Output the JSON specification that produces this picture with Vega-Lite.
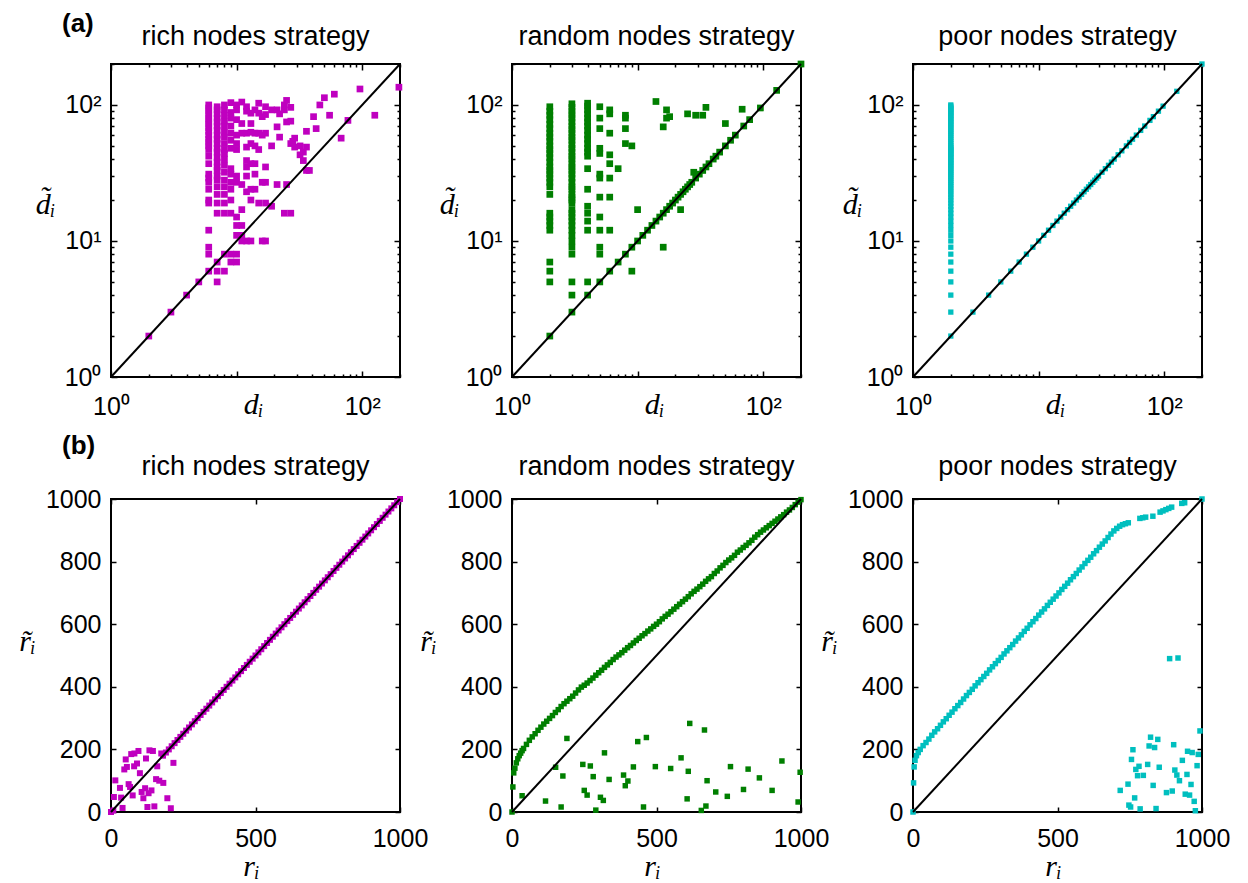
{
"$schema": "https://vega.github.io/schema/vega-lite/v6.json",
"background": "white",
"padding": {"left": 17, "top": 11, "right": 5, "bottom": 5},
"config": {
 "view": {"stroke": "black", "strokeWidth": 2},
 "font": "Liberation Sans",
 "axis": {"domain": false, "grid": false, "tickColor": "black", "tickWidth": 1.5, "labelFont": "Liberation Sans", "labelFontSize": 25, "labelColor": "black", "labelFlush": false, "labelOverlap": false, "titleFont": "Liberation Serif", "titleFontStyle": "italic", "titleFontWeight": "normal", "titleFontSize": 30, "titleColor": "black"},
 "title": {"font": "Liberation Sans", "fontSize": 27, "fontWeight": "normal", "color": "black", "anchor": "middle", "baseline": "alphabetic", "offset": 1}
},
"datasets": {
 "diag_top": [{"d": 1, "dt": 1}, {"d": 200, "dt": 200}],
 "diag_bot": [{"r": 0, "rt": 0}, {"r": 1000, "rt": 1000}],
 "a_rich": [
  {"d":2,"dt":2},{"d":3,"dt":3},{"d":4,"dt":4},{"d":5,"dt":5},
  {"d":6,"dt":6},{"d":6,"dt":8},{"d":6,"dt":9},{"d":6,"dt":12},{"d":6,"dt":19},{"d":6,"dt":20},{"d":6,"dt":24},{"d":6,"dt":27},{"d":6,"dt":29},{"d":6,"dt":31},{"d":6,"dt":37},{"d":6,"dt":42},{"d":6,"dt":47},{"d":6,"dt":50},{"d":6,"dt":53},{"d":6,"dt":56},{"d":6,"dt":60},{"d":6,"dt":64},{"d":6,"dt":68},{"d":6,"dt":72},{"d":6,"dt":76},{"d":6,"dt":80},{"d":6,"dt":85},{"d":6,"dt":90},{"d":6,"dt":95},{"d":6,"dt":100},
  {"d":7,"dt":5},{"d":7,"dt":6},{"d":7,"dt":7},{"d":7,"dt":16},{"d":7,"dt":19},{"d":7,"dt":22},{"d":7,"dt":25},{"d":7,"dt":28},{"d":7,"dt":30},{"d":7,"dt":33},{"d":7,"dt":35},{"d":7,"dt":38},{"d":7,"dt":41},{"d":7,"dt":45},{"d":7,"dt":48},{"d":7,"dt":52},{"d":7,"dt":56},{"d":7,"dt":60},{"d":7,"dt":65},{"d":7,"dt":70},{"d":7,"dt":75},{"d":7,"dt":80},{"d":7,"dt":86},{"d":7,"dt":92},{"d":7,"dt":97},
  {"d":8,"dt":6},{"d":8,"dt":8},{"d":8,"dt":16},{"d":8,"dt":19},{"d":8,"dt":22},{"d":8,"dt":25},{"d":8,"dt":28},{"d":8,"dt":32},{"d":8,"dt":36},{"d":8,"dt":40},{"d":8,"dt":44},{"d":8,"dt":47},{"d":8,"dt":52},{"d":8,"dt":58},{"d":8,"dt":63},{"d":8,"dt":70},{"d":8,"dt":76},{"d":8,"dt":84},{"d":8,"dt":92},{"d":8,"dt":100},
  {"d":9,"dt":7},{"d":9,"dt":8},{"d":9,"dt":16},{"d":9,"dt":20},{"d":9,"dt":24},{"d":9,"dt":27},{"d":9,"dt":31},{"d":9,"dt":34},{"d":9,"dt":48},{"d":9,"dt":55},{"d":9,"dt":62},{"d":9,"dt":70},{"d":9,"dt":80},{"d":9,"dt":88},{"d":9,"dt":104},
  {"d":10,"dt":7},{"d":10,"dt":8},{"d":10,"dt":11},{"d":10,"dt":13},{"d":10,"dt":15},{"d":10,"dt":27},{"d":10,"dt":30},{"d":10,"dt":47},{"d":10,"dt":52},{"d":10,"dt":60},{"d":10,"dt":78},{"d":10,"dt":92},{"d":10,"dt":100},
  {"d":11,"dt":10},{"d":11,"dt":11},{"d":11,"dt":13},{"d":11,"dt":17},{"d":11,"dt":26},{"d":11,"dt":62},{"d":11,"dt":73},{"d":11,"dt":105},
  {"d":12,"dt":10},{"d":12,"dt":23},{"d":12,"dt":30},{"d":12,"dt":35},{"d":12,"dt":39},{"d":12,"dt":49},{"d":12,"dt":62},{"d":12,"dt":90},{"d":12,"dt":97},
  {"d":13,"dt":10},{"d":13,"dt":20},{"d":13,"dt":24},{"d":13,"dt":37},{"d":13,"dt":52},{"d":13,"dt":63},{"d":13,"dt":73},{"d":13,"dt":87},
  {"d":14,"dt":24},{"d":14,"dt":31},{"d":14,"dt":37},{"d":14,"dt":50},{"d":14,"dt":62},{"d":14,"dt":92},
  {"d":15,"dt":19},{"d":15,"dt":47},{"d":15,"dt":62},{"d":15,"dt":87},{"d":15,"dt":103},
  {"d":16,"dt":10},{"d":16,"dt":27},{"d":16,"dt":60},{"d":16,"dt":82},
  {"d":17,"dt":10},{"d":17,"dt":19},{"d":17,"dt":27},{"d":17,"dt":35},{"d":17,"dt":62},{"d":17,"dt":85},{"d":17,"dt":97},
  {"d":19,"dt":18},{"d":19,"dt":50},{"d":19,"dt":92},
  {"d":21,"dt":26},{"d":21,"dt":69},{"d":21,"dt":92},
  {"d":22,"dt":58},{"d":22,"dt":86},
  {"d":24,"dt":16},{"d":24,"dt":92},{"d":24,"dt":100},
  {"d":25,"dt":26},{"d":25,"dt":75},{"d":25,"dt":108},
  {"d":27,"dt":16},{"d":27,"dt":52},{"d":27,"dt":76},{"d":27,"dt":96},
  {"d":28,"dt":54},{"d":29,"dt":49},{"d":29,"dt":57},
  {"d":32,"dt":43},{"d":32,"dt":50},{"d":34,"dt":39},{"d":34,"dt":45},
  {"d":36,"dt":33},{"d":36,"dt":49},{"d":36,"dt":64},{"d":38,"dt":33},
  {"d":41,"dt":82},{"d":43,"dt":67},{"d":46,"dt":100},{"d":50,"dt":113},{"d":55,"dt":84},{"d":60,"dt":120},{"d":68,"dt":57},{"d":77,"dt":77},{"d":96,"dt":131},{"d":126,"dt":84},{"d":196,"dt":135}
 ],
 "a_random": [
  {"d":2,"dt":2},{"d":2,"dt":5},{"d":2,"dt":6},{"d":2,"dt":7},{"d":2,"dt":12},{"d":2,"dt":13},{"d":2,"dt":14},{"d":2,"dt":15},{"d":2,"dt":16},{"d":2,"dt":22},{"d":2,"dt":25},{"d":2,"dt":27},{"d":2,"dt":29},{"d":2,"dt":31},{"d":2,"dt":33},{"d":2,"dt":35},{"d":2,"dt":38},{"d":2,"dt":41},{"d":2,"dt":44},{"d":2,"dt":47},{"d":2,"dt":50},{"d":2,"dt":54},{"d":2,"dt":58},{"d":2,"dt":62},{"d":2,"dt":67},{"d":2,"dt":72},{"d":2,"dt":78},{"d":2,"dt":84},{"d":2,"dt":90},{"d":2,"dt":97},
  {"d":3,"dt":3},{"d":3,"dt":4},{"d":3,"dt":5},{"d":3,"dt":8},{"d":3,"dt":9},{"d":3,"dt":10},{"d":3,"dt":11},{"d":3,"dt":12},{"d":3,"dt":13},{"d":3,"dt":14},{"d":3,"dt":15},{"d":3,"dt":16},{"d":3,"dt":17},{"d":3,"dt":19},{"d":3,"dt":20},{"d":3,"dt":21},{"d":3,"dt":22},{"d":3,"dt":24},{"d":3,"dt":25},{"d":3,"dt":27},{"d":3,"dt":29},{"d":3,"dt":31},{"d":3,"dt":33},{"d":3,"dt":35},{"d":3,"dt":37},{"d":3,"dt":40},{"d":3,"dt":42},{"d":3,"dt":45},{"d":3,"dt":48},{"d":3,"dt":51},{"d":3,"dt":55},{"d":3,"dt":58},{"d":3,"dt":62},{"d":3,"dt":66},{"d":3,"dt":70},{"d":3,"dt":75},{"d":3,"dt":80},{"d":3,"dt":85},{"d":3,"dt":90},{"d":3,"dt":96},{"d":3,"dt":102},
  {"d":4,"dt":4},{"d":4,"dt":5},{"d":4,"dt":12},{"d":4,"dt":14},{"d":4,"dt":16},{"d":4,"dt":18},{"d":4,"dt":24},{"d":4,"dt":34},{"d":4,"dt":42},{"d":4,"dt":45},{"d":4,"dt":48},{"d":4,"dt":52},{"d":4,"dt":56},{"d":4,"dt":60},{"d":4,"dt":65},{"d":4,"dt":70},{"d":4,"dt":75},{"d":4,"dt":80},{"d":4,"dt":86},{"d":4,"dt":92},{"d":4,"dt":98},{"d":4,"dt":103},
  {"d":5,"dt":5},{"d":5,"dt":8},{"d":5,"dt":9},{"d":5,"dt":12},{"d":5,"dt":15},{"d":5,"dt":21},{"d":5,"dt":29},{"d":5,"dt":31},{"d":5,"dt":44},{"d":5,"dt":48},{"d":5,"dt":67},{"d":5,"dt":80},{"d":5,"dt":97},
  {"d":6,"dt":6},{"d":6,"dt":12},{"d":6,"dt":21},{"d":6,"dt":29},{"d":6,"dt":37},{"d":6,"dt":43},{"d":6,"dt":62},{"d":6,"dt":86},{"d":6,"dt":92},
  {"d":7,"dt":7},{"d":7,"dt":34},{"d":8,"dt":8},{"d":8,"dt":52},{"d":8,"dt":67},{"d":8,"dt":80},{"d":8,"dt":84},{"d":9,"dt":6},{"d":9,"dt":9},{"d":9,"dt":50},{"d":10,"dt":10},{"d":10,"dt":17},
  {"d":11,"dt":11},{"d":12,"dt":12},{"d":13,"dt":13},{"d":14,"dt":14},{"d":15,"dt":15},{"d":16,"dt":16},{"d":17,"dt":17},{"d":18,"dt":18},{"d":19,"dt":19},{"d":20,"dt":20},{"d":21,"dt":21},{"d":22,"dt":22},{"d":23,"dt":23},{"d":24,"dt":24},{"d":25,"dt":25},{"d":26,"dt":26},{"d":27,"dt":27},{"d":29,"dt":29},{"d":31,"dt":31},{"d":33,"dt":33},{"d":35,"dt":35},{"d":37,"dt":37},{"d":40,"dt":40},{"d":42,"dt":42},{"d":45,"dt":45},{"d":50,"dt":50},{"d":55,"dt":55},{"d":60,"dt":60},{"d":70,"dt":70},{"d":78,"dt":78},{"d":95,"dt":95},{"d":128,"dt":128},{"d":200,"dt":200},
  {"d":14,"dt":106},{"d":16,"dt":69},{"d":16,"dt":9},{"d":17,"dt":92},{"d":17,"dt":80},{"d":18,"dt":82},{"d":22,"dt":17},{"d":25,"dt":86},{"d":28,"dt":32},{"d":29,"dt":84},{"d":33,"dt":84},{"d":35,"dt":96},{"d":50,"dt":73},{"d":68,"dt":93}
 ],
 "a_poor": [
  {"d":2,"dt":2},{"d":2,"dt":3},{"d":2,"dt":4},{"d":2,"dt":5},{"d":2,"dt":6},{"d":2,"dt":7},{"d":2,"dt":8},{"d":2,"dt":9},{"d":2,"dt":10},{"d":2,"dt":11},{"d":2,"dt":12},{"d":2,"dt":13},{"d":2,"dt":14},{"d":2,"dt":15},{"d":2,"dt":16},{"d":2,"dt":17},{"d":2,"dt":18},{"d":2,"dt":19},{"d":2,"dt":20},{"d":2,"dt":21},{"d":2,"dt":22},{"d":2,"dt":23},{"d":2,"dt":24},{"d":2,"dt":25},{"d":2,"dt":26},{"d":2,"dt":27},{"d":2,"dt":28},{"d":2,"dt":29},{"d":2,"dt":30},{"d":2,"dt":31},{"d":2,"dt":32},{"d":2,"dt":33},{"d":2,"dt":34},{"d":2,"dt":35},{"d":2,"dt":36},{"d":2,"dt":37},{"d":2,"dt":38},{"d":2,"dt":39},{"d":2,"dt":40},{"d":2,"dt":41},{"d":2,"dt":42},{"d":2,"dt":43},{"d":2,"dt":44},{"d":2,"dt":45},{"d":2,"dt":46},{"d":2,"dt":47},{"d":2,"dt":48},{"d":2,"dt":49},{"d":2,"dt":50},{"d":2,"dt":52},{"d":2,"dt":54},{"d":2,"dt":56},{"d":2,"dt":58},{"d":2,"dt":60},{"d":2,"dt":62},{"d":2,"dt":64},{"d":2,"dt":66},{"d":2,"dt":68},{"d":2,"dt":70},{"d":2,"dt":72},{"d":2,"dt":74},{"d":2,"dt":76},{"d":2,"dt":78},{"d":2,"dt":80},{"d":2,"dt":82},{"d":2,"dt":84},{"d":2,"dt":86},{"d":2,"dt":88},{"d":2,"dt":90},{"d":2,"dt":92},{"d":2,"dt":94},{"d":2,"dt":96},{"d":2,"dt":98},{"d":2,"dt":100},
  {"d":3,"dt":3},{"d":4,"dt":4},{"d":5,"dt":5},{"d":6,"dt":6},{"d":7,"dt":7},{"d":8,"dt":8},{"d":9,"dt":9},{"d":10,"dt":10},{"d":11,"dt":11},{"d":12,"dt":12},{"d":13,"dt":13},{"d":14,"dt":14},{"d":15,"dt":15},{"d":16,"dt":16},{"d":17,"dt":17},{"d":18,"dt":18},{"d":19,"dt":19},{"d":20,"dt":20},{"d":21,"dt":21},{"d":22,"dt":22},{"d":23,"dt":23},{"d":24,"dt":24},{"d":25,"dt":25},{"d":26,"dt":26},{"d":27,"dt":27},{"d":28,"dt":28},{"d":29,"dt":29},{"d":30,"dt":30},{"d":32,"dt":32},{"d":34,"dt":34},{"d":36,"dt":36},{"d":38,"dt":38},{"d":40,"dt":40},{"d":43,"dt":43},{"d":46,"dt":46},{"d":50,"dt":50},{"d":53,"dt":53},{"d":56,"dt":56},{"d":60,"dt":60},{"d":65,"dt":65},{"d":70,"dt":70},{"d":77,"dt":77},{"d":82,"dt":82},{"d":90,"dt":90},{"d":98,"dt":98},{"d":126,"dt":126},{"d":200,"dt":200}
 ],
 "b_rich": [
  {"r":0,"rt":0},{"r":8,"rt":5},{"r":15,"rt":101},{"r":10,"rt":48},{"r":31,"rt":77},{"r":35,"rt":46},{"r":40,"rt":13},{"r":46,"rt":136},{"r":51,"rt":168},{"r":55,"rt":144},{"r":70,"rt":185},{"r":81,"rt":187},{"r":95,"rt":195},{"r":90,"rt":155},{"r":80,"rt":146},{"r":100,"rt":124},{"r":61,"rt":89},{"r":66,"rt":80},{"r":75,"rt":53},{"r":106,"rt":64},{"r":112,"rt":44},{"r":118,"rt":76},{"r":130,"rt":60},{"r":140,"rt":69},{"r":121,"rt":171},{"r":133,"rt":197},{"r":145,"rt":195},{"r":160,"rt":146},{"r":156,"rt":105},{"r":167,"rt":100},{"r":181,"rt":93},{"r":195,"rt":44},{"r":207,"rt":12},{"r":126,"rt":16},{"r":150,"rt":18},{"r":216,"rt":157},{"r":174,"rt":187},
  {"r":180,"rt":180},{"r":190,"rt":190},{"r":200,"rt":200},{"r":210,"rt":210},{"r":220,"rt":220},{"r":230,"rt":230},{"r":240,"rt":240},{"r":250,"rt":250},{"r":260,"rt":260},{"r":270,"rt":270},{"r":280,"rt":280},{"r":290,"rt":290},{"r":300,"rt":300},{"r":310,"rt":310},{"r":320,"rt":320},{"r":330,"rt":330},{"r":340,"rt":340},{"r":350,"rt":350},{"r":360,"rt":360},{"r":370,"rt":370},{"r":380,"rt":380},{"r":390,"rt":390},{"r":400,"rt":400},{"r":410,"rt":410},{"r":420,"rt":420},{"r":430,"rt":430},{"r":440,"rt":440},{"r":450,"rt":450},{"r":460,"rt":460},{"r":470,"rt":470},{"r":480,"rt":480},{"r":490,"rt":490},{"r":500,"rt":500},{"r":510,"rt":510},{"r":520,"rt":520},{"r":530,"rt":530},{"r":540,"rt":540},{"r":550,"rt":550},{"r":560,"rt":560},{"r":570,"rt":570},{"r":580,"rt":580},{"r":590,"rt":590},{"r":600,"rt":600},{"r":610,"rt":610},{"r":620,"rt":620},{"r":630,"rt":630},{"r":640,"rt":640},{"r":650,"rt":650},{"r":660,"rt":660},{"r":670,"rt":670},{"r":680,"rt":680},{"r":690,"rt":690},{"r":700,"rt":700},{"r":710,"rt":710},{"r":720,"rt":720},{"r":730,"rt":730},{"r":740,"rt":740},{"r":750,"rt":750},{"r":760,"rt":760},{"r":770,"rt":770},{"r":780,"rt":780},{"r":790,"rt":790},{"r":800,"rt":800},{"r":810,"rt":810},{"r":820,"rt":820},{"r":830,"rt":830},{"r":840,"rt":840},{"r":850,"rt":850},{"r":860,"rt":860},{"r":870,"rt":870},{"r":880,"rt":880},{"r":890,"rt":890},{"r":900,"rt":900},{"r":910,"rt":910},{"r":920,"rt":920},{"r":930,"rt":930},{"r":940,"rt":940},{"r":950,"rt":950},{"r":960,"rt":960},{"r":970,"rt":970},{"r":980,"rt":980},{"r":990,"rt":990},{"r":1000,"rt":1000}
 ],
 "b_random": [
  {"r":35,"rt":52},{"r":116,"rt":35},{"r":170,"rt":16},{"r":151,"rt":143},{"r":176,"rt":115},{"r":190,"rt":235},{"r":245,"rt":152},{"r":271,"rt":147},{"r":281,"rt":113},{"r":250,"rt":69},{"r":260,"rt":54},{"r":290,"rt":6},{"r":306,"rt":47},{"r":316,"rt":37},{"r":320,"rt":189},{"r":336,"rt":104},{"r":386,"rt":118},{"r":401,"rt":99},{"r":392,"rt":84},{"r":420,"rt":144},{"r":435,"rt":225},{"r":465,"rt":238},{"r":455,"rt":16},{"r":496,"rt":145},{"r":549,"rt":139},{"r":585,"rt":173},{"r":615,"rt":283},{"r":610,"rt":130},{"r":606,"rt":42},{"r":666,"rt":262},{"r":675,"rt":100},{"r":655,"rt":5},{"r":671,"rt":19},{"r":705,"rt":64},{"r":745,"rt":50},{"r":756,"rt":145},{"r":801,"rt":72},{"r":817,"rt":137},{"r":856,"rt":109},{"r":900,"rt":69},{"r":934,"rt":163},{"r":997,"rt":127},{"r":990,"rt":32},
  {"r":0,"rt":0},{"r":3,"rt":80},{"r":6,"rt":125},{"r":10,"rt":140},{"r":15,"rt":157},{"r":20,"rt":170},{"r":25,"rt":180},{"r":30,"rt":188},{"r":35,"rt":196},{"r":40,"rt":203},{"r":50,"rt":216},{"r":60,"rt":229},{"r":70,"rt":240},{"r":80,"rt":250},{"r":90,"rt":261},{"r":100,"rt":271},{"r":110,"rt":281},{"r":120,"rt":290},{"r":130,"rt":299},{"r":140,"rt":308},{"r":150,"rt":318},{"r":160,"rt":327},{"r":170,"rt":337},{"r":180,"rt":346},{"r":190,"rt":354},{"r":200,"rt":362},{"r":210,"rt":370},{"r":220,"rt":380},{"r":230,"rt":390},{"r":240,"rt":399},{"r":250,"rt":405},{"r":260,"rt":412},{"r":270,"rt":420},{"r":280,"rt":428},{"r":290,"rt":437},{"r":300,"rt":445},{"r":310,"rt":453},{"r":320,"rt":462},{"r":330,"rt":470},{"r":340,"rt":478},{"r":350,"rt":487},{"r":360,"rt":495},{"r":370,"rt":502},{"r":380,"rt":509},{"r":390,"rt":517},{"r":400,"rt":525},{"r":410,"rt":532},{"r":420,"rt":540},{"r":430,"rt":548},{"r":440,"rt":555},{"r":450,"rt":563},{"r":460,"rt":570},{"r":470,"rt":578},{"r":480,"rt":585},{"r":490,"rt":593},{"r":500,"rt":600},{"r":510,"rt":608},{"r":520,"rt":617},{"r":530,"rt":625},{"r":540,"rt":632},{"r":550,"rt":640},{"r":560,"rt":648},{"r":570,"rt":656},{"r":580,"rt":664},{"r":590,"rt":672},{"r":600,"rt":680},{"r":610,"rt":688},{"r":620,"rt":697},{"r":630,"rt":705},{"r":640,"rt":712},{"r":650,"rt":720},{"r":660,"rt":728},{"r":670,"rt":737},{"r":680,"rt":745},{"r":690,"rt":752},{"r":700,"rt":762},{"r":710,"rt":770},{"r":720,"rt":780},{"r":730,"rt":788},{"r":740,"rt":797},{"r":750,"rt":805},{"r":760,"rt":812},{"r":770,"rt":820},{"r":780,"rt":830},{"r":790,"rt":837},{"r":800,"rt":845},{"r":810,"rt":852},{"r":820,"rt":860},{"r":830,"rt":868},{"r":840,"rt":878},{"r":850,"rt":886},{"r":860,"rt":894},{"r":870,"rt":901},{"r":880,"rt":908},{"r":890,"rt":915},{"r":900,"rt":922},{"r":910,"rt":929},{"r":920,"rt":936},{"r":930,"rt":943},{"r":940,"rt":950},{"r":950,"rt":958},{"r":960,"rt":965},{"r":970,"rt":973},{"r":980,"rt":982},{"r":990,"rt":990},{"r":1000,"rt":998}
 ],
 "b_poor": [
  {"r":888,"rt":490},{"r":917,"rt":492},{"r":993,"rt":259},{"r":822,"rt":239},{"r":847,"rt":232},{"r":817,"rt":211},{"r":836,"rt":206},{"r":902,"rt":215},{"r":761,"rt":199},{"r":756,"rt":168},{"r":950,"rt":194},{"r":966,"rt":190},{"r":987,"rt":184},{"r":932,"rt":165},{"r":782,"rt":146},{"r":771,"rt":136},{"r":812,"rt":152},{"r":852,"rt":143},{"r":983,"rt":148},{"r":906,"rt":134},{"r":913,"rt":118},{"r":777,"rt":116},{"r":797,"rt":117},{"r":948,"rt":120},{"r":922,"rt":100},{"r":744,"rt":89},{"r":831,"rt":85},{"r":717,"rt":69},{"r":962,"rt":88},{"r":897,"rt":67},{"r":877,"rt":62},{"r":942,"rt":57},{"r":957,"rt":54},{"r":767,"rt":45},{"r":973,"rt":34},{"r":747,"rt":22},{"r":753,"rt":16},{"r":786,"rt":10},{"r":841,"rt":11},{"r":977,"rt":4},
  {"r":0,"rt":0},{"r":2,"rt":93},{"r":4,"rt":144},{"r":7,"rt":165},{"r":12,"rt":180},{"r":18,"rt":190},{"r":25,"rt":200},{"r":35,"rt":212},{"r":45,"rt":222},{"r":55,"rt":233},{"r":65,"rt":245},{"r":75,"rt":256},{"r":85,"rt":266},{"r":95,"rt":277},{"r":105,"rt":288},{"r":115,"rt":298},{"r":125,"rt":309},{"r":135,"rt":319},{"r":145,"rt":330},{"r":155,"rt":340},{"r":165,"rt":350},{"r":175,"rt":361},{"r":185,"rt":372},{"r":195,"rt":382},{"r":205,"rt":392},{"r":215,"rt":403},{"r":225,"rt":413},{"r":235,"rt":423},{"r":245,"rt":433},{"r":255,"rt":443},{"r":265,"rt":454},{"r":275,"rt":464},{"r":285,"rt":474},{"r":295,"rt":484},{"r":305,"rt":494},{"r":315,"rt":505},{"r":325,"rt":515},{"r":335,"rt":525},{"r":345,"rt":535},{"r":355,"rt":546},{"r":365,"rt":556},{"r":375,"rt":566},{"r":385,"rt":577},{"r":395,"rt":587},{"r":405,"rt":598},{"r":415,"rt":608},{"r":425,"rt":618},{"r":435,"rt":629},{"r":445,"rt":639},{"r":455,"rt":649},{"r":465,"rt":660},{"r":475,"rt":670},{"r":485,"rt":680},{"r":495,"rt":690},{"r":505,"rt":700},{"r":515,"rt":711},{"r":525,"rt":721},{"r":535,"rt":731},{"r":545,"rt":742},{"r":555,"rt":752},{"r":565,"rt":762},{"r":575,"rt":773},{"r":585,"rt":783},{"r":595,"rt":794},{"r":605,"rt":804},{"r":615,"rt":814},{"r":625,"rt":825},{"r":635,"rt":835},{"r":645,"rt":846},{"r":655,"rt":856},{"r":665,"rt":866},{"r":675,"rt":877},{"r":685,"rt":888},{"r":695,"rt":898},{"r":705,"rt":906},{"r":715,"rt":913},{"r":725,"rt":918},{"r":735,"rt":921},{"r":745,"rt":924},{"r":785,"rt":938},{"r":795,"rt":940},{"r":805,"rt":942},{"r":830,"rt":945},{"r":855,"rt":958},{"r":865,"rt":962},{"r":875,"rt":966},{"r":885,"rt":970},{"r":895,"rt":974},{"r":930,"rt":986},{"r":940,"rt":988},{"r":1000,"rt":1000}
 ]
},
"spacing": 435,
"bounds": "flush",
"vconcat": [
 {
  "title": {"text": "(a)", "anchor": "start", "frame": "group", "fontWeight": "bold", "fontSize": 26, "dx": -49, "dy": 15, "offset": 0},
  "spacing": 112,
  "bounds": "flush",
  "hconcat": [
   {
    "width": 289, "height": 313,
    "title": {"text": "rich nodes strategy"},
    "layer": [
     {"data": {"name": "a_rich"}, "mark": {"type": "point", "shape": "square", "filled": true, "opacity": 1, "size": 45, "color": "#bf00bf"},
      "encoding": {
       "x": {"field": "d", "type": "quantitative", "scale": {"type": "log", "domain": [1, 200], "nice": false}, "axis": {"orient": "bottom", "values": [1,2,3,4,5,6,7,8,9,10,20,30,40,50,60,70,80,90,100,200], "tickSize": {"condition": {"test": "datum.value==1||datum.value==10||datum.value==100", "value": -6}, "value": -3}, "labelExpr": "datum.value==1?'10\u2070':datum.value==100?'10\u00b2':''", "labelPadding": 23, "title": "d\u1d62", "titleX": 142, "titleY": 36, "titleAlign": "center", "titleBaseline": "alphabetic"}},
       "y": {"field": "dt", "type": "quantitative", "scale": {"type": "log", "domain": [1, 200], "nice": false}, "axis": {"orient": "left", "values": [1,2,3,4,5,6,7,8,9,10,20,30,40,50,60,70,80,90,100,200], "tickSize": {"condition": {"test": "datum.value==1||datum.value==10||datum.value==100", "value": -6}, "value": -3}, "labelExpr": "datum.value==1?'10\u2070':datum.value==10?'10\u00b9':datum.value==100?'10\u00b2':''", "labelPadding": 16, "title": "d\u0303\u1d62", "titleAngle": 0, "titleX": -66, "titleY": 149, "titleAlign": "center", "titleBaseline": "alphabetic"}}
      }},
     {"data": {"name": "diag_top"}, "mark": {"type": "line", "color": "black", "strokeWidth": 2},
      "encoding": {
       "x": {"field": "d", "type": "quantitative", "axis": {"orient": "top", "values": [1,2,3,4,5,6,7,8,9,10,20,30,40,50,60,70,80,90,100,200], "tickSize": {"condition": {"test": "datum.value==1||datum.value==10||datum.value==100", "value": -6}, "value": -3}, "labels": false, "title": null}},
       "y": {"field": "dt", "type": "quantitative", "axis": {"orient": "right", "values": [1,2,3,4,5,6,7,8,9,10,20,30,40,50,60,70,80,90,100,200], "tickSize": {"condition": {"test": "datum.value==1||datum.value==10||datum.value==100", "value": -6}, "value": -3}, "labels": false, "title": null}}
      }}
    ],
    "resolve": {"axis": {"x": "independent", "y": "independent"}}
   },
   {
    "width": 289, "height": 313,
    "title": {"text": "random nodes strategy"},
    "layer": [
     {"data": {"name": "a_random"}, "mark": {"type": "point", "shape": "square", "filled": true, "opacity": 1, "size": 45, "color": "#007f00"},
      "encoding": {
       "x": {"field": "d", "type": "quantitative", "scale": {"type": "log", "domain": [1, 200], "nice": false}, "axis": {"orient": "bottom", "values": [1,2,3,4,5,6,7,8,9,10,20,30,40,50,60,70,80,90,100,200], "tickSize": {"condition": {"test": "datum.value==1||datum.value==10||datum.value==100", "value": -6}, "value": -3}, "labelExpr": "datum.value==1?'10\u2070':datum.value==100?'10\u00b2':''", "labelPadding": 23, "title": "d\u1d62", "titleX": 142, "titleY": 36, "titleAlign": "center", "titleBaseline": "alphabetic"}},
       "y": {"field": "dt", "type": "quantitative", "scale": {"type": "log", "domain": [1, 200], "nice": false}, "axis": {"orient": "left", "values": [1,2,3,4,5,6,7,8,9,10,20,30,40,50,60,70,80,90,100,200], "tickSize": {"condition": {"test": "datum.value==1||datum.value==10||datum.value==100", "value": -6}, "value": -3}, "labelExpr": "datum.value==1?'10\u2070':datum.value==10?'10\u00b9':datum.value==100?'10\u00b2':''", "labelPadding": 16, "title": "d\u0303\u1d62", "titleAngle": 0, "titleX": -63, "titleY": 149, "titleAlign": "center", "titleBaseline": "alphabetic"}}
      }},
     {"data": {"name": "diag_top"}, "mark": {"type": "line", "color": "black", "strokeWidth": 2},
      "encoding": {
       "x": {"field": "d", "type": "quantitative", "axis": {"orient": "top", "values": [1,2,3,4,5,6,7,8,9,10,20,30,40,50,60,70,80,90,100,200], "tickSize": {"condition": {"test": "datum.value==1||datum.value==10||datum.value==100", "value": -6}, "value": -3}, "labels": false, "title": null}},
       "y": {"field": "dt", "type": "quantitative", "axis": {"orient": "right", "values": [1,2,3,4,5,6,7,8,9,10,20,30,40,50,60,70,80,90,100,200], "tickSize": {"condition": {"test": "datum.value==1||datum.value==10||datum.value==100", "value": -6}, "value": -3}, "labels": false, "title": null}}
      }}
    ],
    "resolve": {"axis": {"x": "independent", "y": "independent"}}
   },
   {
    "width": 289, "height": 313,
    "title": {"text": "poor nodes strategy"},
    "layer": [
     {"data": {"name": "a_poor"}, "mark": {"type": "point", "shape": "square", "filled": true, "opacity": 1, "size": 28, "color": "#00bfbf"},
      "encoding": {
       "x": {"field": "d", "type": "quantitative", "scale": {"type": "log", "domain": [1, 200], "nice": false}, "axis": {"orient": "bottom", "values": [1,2,3,4,5,6,7,8,9,10,20,30,40,50,60,70,80,90,100,200], "tickSize": {"condition": {"test": "datum.value==1||datum.value==10||datum.value==100", "value": -6}, "value": -3}, "labelExpr": "datum.value==1?'10\u2070':datum.value==100?'10\u00b2':''", "labelPadding": 23, "title": "d\u1d62", "titleX": 142, "titleY": 36, "titleAlign": "center", "titleBaseline": "alphabetic"}},
       "y": {"field": "dt", "type": "quantitative", "scale": {"type": "log", "domain": [1, 200], "nice": false}, "axis": {"orient": "left", "values": [1,2,3,4,5,6,7,8,9,10,20,30,40,50,60,70,80,90,100,200], "tickSize": {"condition": {"test": "datum.value==1||datum.value==10||datum.value==100", "value": -6}, "value": -3}, "labelExpr": "datum.value==1?'10\u2070':datum.value==10?'10\u00b9':datum.value==100?'10\u00b2':''", "labelPadding": 16, "title": "d\u0303\u1d62", "titleAngle": 0, "titleX": -61, "titleY": 149, "titleAlign": "center", "titleBaseline": "alphabetic"}}
      }},
     {"data": {"name": "diag_top"}, "mark": {"type": "line", "color": "black", "strokeWidth": 2},
      "encoding": {
       "x": {"field": "d", "type": "quantitative", "axis": {"orient": "top", "values": [1,2,3,4,5,6,7,8,9,10,20,30,40,50,60,70,80,90,100,200], "tickSize": {"condition": {"test": "datum.value==1||datum.value==10||datum.value==100", "value": -6}, "value": -3}, "labels": false, "title": null}},
       "y": {"field": "dt", "type": "quantitative", "axis": {"orient": "right", "values": [1,2,3,4,5,6,7,8,9,10,20,30,40,50,60,70,80,90,100,200], "tickSize": {"condition": {"test": "datum.value==1||datum.value==10||datum.value==100", "value": -6}, "value": -3}, "labels": false, "title": null}}
      }}
    ],
    "resolve": {"axis": {"x": "independent", "y": "independent"}}
   }
  ]
 },
 {
  "title": {"text": "(b)", "anchor": "start", "frame": "group", "fontWeight": "bold", "fontSize": 26, "dx": -49, "dy": 7, "offset": 0},
  "spacing": 112,
  "bounds": "flush",
  "hconcat": [
   {
    "width": 289, "height": 313,
    "title": {"text": "rich nodes strategy", "offset": 6},
    "layer": [
     {"data": {"name": "b_rich"}, "mark": {"type": "point", "shape": "square", "filled": true, "opacity": 1, "size": 36, "color": "#bf00bf"},
      "encoding": {
       "x": {"field": "r", "type": "quantitative", "scale": {"domain": [0, 1000], "nice": false, "zero": false}, "axis": {"orient": "bottom", "values": [0, 500, 1000], "format": "d", "tickSize": -5, "labelPadding": 19, "title": "r\u1d62", "titleX": 140, "titleY": 63, "titleAlign": "center", "titleBaseline": "alphabetic"}},
       "y": {"field": "rt", "type": "quantitative", "scale": {"domain": [0, 1000], "nice": false, "zero": false}, "axis": {"orient": "left", "values": [0, 200, 400, 600, 800, 1000], "format": "d", "tickSize": -5, "labelPadding": 15, "title": "r\u0303\u1d62", "titleAngle": 0, "titleX": -84, "titleY": 151, "titleAlign": "center", "titleBaseline": "alphabetic"}}
      }},
     {"data": {"name": "diag_bot"}, "mark": {"type": "line", "color": "black", "strokeWidth": 2},
      "encoding": {
       "x": {"field": "r", "type": "quantitative", "axis": {"orient": "top", "values": [0, 500, 1000], "tickSize": -5, "labels": false, "title": null}},
       "y": {"field": "rt", "type": "quantitative", "axis": {"orient": "right", "values": [0, 200, 400, 600, 800, 1000], "tickSize": -5, "labels": false, "title": null}}
      }}
    ],
    "resolve": {"axis": {"x": "independent", "y": "independent"}}
   },
   {
    "width": 289, "height": 313,
    "title": {"text": "random nodes strategy", "offset": 6},
    "layer": [
     {"data": {"name": "b_random"}, "mark": {"type": "point", "shape": "square", "filled": true, "opacity": 1, "size": 30, "color": "#007f00"},
      "encoding": {
       "x": {"field": "r", "type": "quantitative", "scale": {"domain": [0, 1000], "nice": false, "zero": false}, "axis": {"orient": "bottom", "values": [0, 500, 1000], "format": "d", "tickSize": -5, "labelPadding": 19, "title": "r\u1d62", "titleX": 140, "titleY": 63, "titleAlign": "center", "titleBaseline": "alphabetic"}},
       "y": {"field": "rt", "type": "quantitative", "scale": {"domain": [0, 1000], "nice": false, "zero": false}, "axis": {"orient": "left", "values": [0, 200, 400, 600, 800, 1000], "format": "d", "tickSize": -5, "labelPadding": 15, "title": "r\u0303\u1d62", "titleAngle": 0, "titleX": -84, "titleY": 151, "titleAlign": "center", "titleBaseline": "alphabetic"}}
      }},
     {"data": {"name": "diag_bot"}, "mark": {"type": "line", "color": "black", "strokeWidth": 2},
      "encoding": {
       "x": {"field": "r", "type": "quantitative", "axis": {"orient": "top", "values": [0, 500, 1000], "tickSize": -5, "labels": false, "title": null}},
       "y": {"field": "rt", "type": "quantitative", "axis": {"orient": "right", "values": [0, 200, 400, 600, 800, 1000], "tickSize": -5, "labels": false, "title": null}}
      }}
    ],
    "resolve": {"axis": {"x": "independent", "y": "independent"}}
   },
   {
    "width": 289, "height": 313,
    "title": {"text": "poor nodes strategy", "offset": 6},
    "layer": [
     {"data": {"name": "b_poor"}, "mark": {"type": "point", "shape": "square", "filled": true, "opacity": 1, "size": 30, "color": "#00bfbf"},
      "encoding": {
       "x": {"field": "r", "type": "quantitative", "scale": {"domain": [0, 1000], "nice": false, "zero": false}, "axis": {"orient": "bottom", "values": [0, 500, 1000], "format": "d", "tickSize": -5, "labelPadding": 19, "title": "r\u1d62", "titleX": 140, "titleY": 63, "titleAlign": "center", "titleBaseline": "alphabetic"}},
       "y": {"field": "rt", "type": "quantitative", "scale": {"domain": [0, 1000], "nice": false, "zero": false}, "axis": {"orient": "left", "values": [0, 200, 400, 600, 800, 1000], "format": "d", "tickSize": -5, "labelPadding": 15, "title": "r\u0303\u1d62", "titleAngle": 0, "titleX": -84, "titleY": 151, "titleAlign": "center", "titleBaseline": "alphabetic"}}
      }},
     {"data": {"name": "diag_bot"}, "mark": {"type": "line", "color": "black", "strokeWidth": 2},
      "encoding": {
       "x": {"field": "r", "type": "quantitative", "axis": {"orient": "top", "values": [0, 500, 1000], "tickSize": -5, "labels": false, "title": null}},
       "y": {"field": "rt", "type": "quantitative", "axis": {"orient": "right", "values": [0, 200, 400, 600, 800, 1000], "tickSize": -5, "labels": false, "title": null}}
      }}
    ],
    "resolve": {"axis": {"x": "independent", "y": "independent"}}
   }
  ]
 }
]
}
